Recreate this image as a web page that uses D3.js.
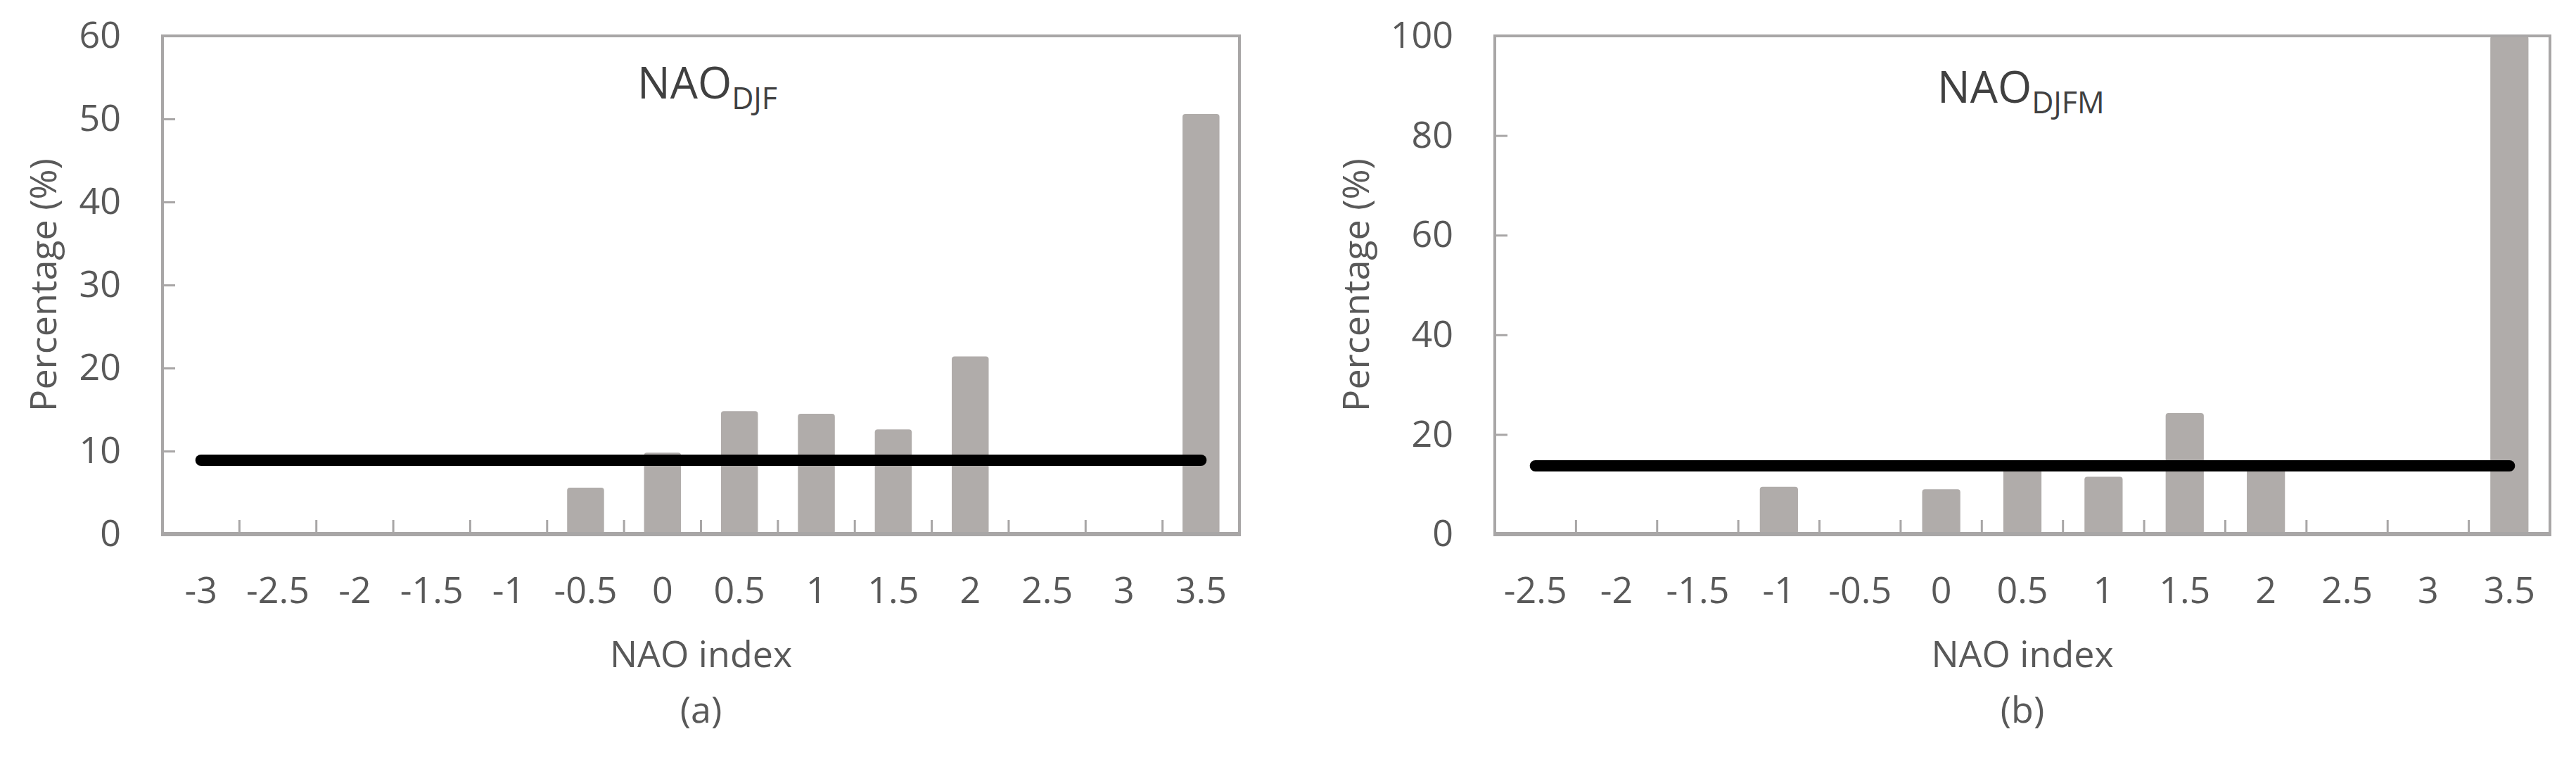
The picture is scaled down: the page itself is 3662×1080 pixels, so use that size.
<!DOCTYPE html>
<html>
<head>
<meta charset="utf-8">
<script src="https://cdn.jsdelivr.net/npm/d3@7"></script>
<style>
html,body{margin:0;padding:0;background:#fff;}
svg{display:block;}
text{font-family:"Open Sans",sans-serif;}
</style>
</head>
<body>
<svg id="chart" width="3662" height="1080"></svg>
<script>
// ---- data ----
const categoriesA = ["-3","-2.5","-2","-1.5","-1","-0.5","0","0.5","1","1.5","2","2.5","3","3.5"];
const valuesA     = [0, 0, 0, 0, 0, 5.6, 9.8, 14.8, 14.5, 12.6, 21.4, 0, 0, 50.6];
const meanA       = 8.9;
const yTicksA     = [0, 10, 20, 30, 40, 50, 60];

const categoriesB = ["-2.5","-2","-1.5","-1","-0.5","0","0.5","1","1.5","2","2.5","3","3.5"];
const valuesB     = [0, 0, 0, 9.5, 0, 9.0, 13.5, 11.5, 24.3, 13.5, 0, 0, 100];
const meanB       = 13.7;
const yTicksB     = [0, 20, 40, 60, 80, 100];

const titleMainA = "NAO", titleSubA = "DJF";
const titleMainB = "NAO", titleSubB = "DJFM";
const xTitle = "NAO index", yTitle = "Percentage (%)";
const panelLabelA = "(a)", panelLabelB = "(b)";

// ---- drawing ----
const svg = d3.select("#chart");
const TXT = "#595959", FRAME = "#a8a6a6", BAR = "#b0acaa";

function panel(o) {
  const g = svg.append("g");
  const x = d3.scaleBand().domain(o.cats).range([o.left, o.right]).paddingInner(0).paddingOuter(0);
  const y = d3.scaleLinear().domain([0, o.yMax]).range([o.bottom, o.top]);
  const bw = x.bandwidth() * o.barFrac;

  // bars
  g.selectAll("rect.bar").data(o.cats.map((c, i) => ({c, v: o.vals[i]})).filter(d => d.v > 0))
    .join("rect").attr("class", "bar")
    .attr("x", d => x(d.c) + (x.bandwidth() - bw) / 2)
    .attr("width", bw)
    .attr("y", d => y(d.v))
    .attr("height", d => y(0) - y(d.v))
    .attr("rx", 4)
    .attr("fill", BAR);

  // frame (left, top, right)
  g.append("path")
    .attr("d", `M${o.left},${o.bottom} V${o.top} H${o.right} V${o.bottom}`)
    .attr("fill", "none").attr("stroke", FRAME).attr("stroke-width", 4);

  // y axis
  const ya = g.append("g").attr("transform", `translate(${o.left},0)`)
    .call(d3.axisLeft(y).tickValues(o.yTicks).tickSize(-18).tickPadding(59));
  ya.select(".domain").remove();
  ya.selectAll(".tick line").attr("stroke", FRAME).attr("stroke-width", 3);
  ya.selectAll(".tick text").attr("fill", TXT).style("font-size", "52px");

  // x category boundary ticks
  const bounds = o.cats.slice(1).map(c => x(c));
  g.selectAll("line.xt").data(bounds).join("line").attr("class", "xt")
    .attr("x1", d => d).attr("x2", d => d)
    .attr("y1", y(0)).attr("y2", y(0) - 20)
    .attr("stroke", FRAME).attr("stroke-width", 3);

  // x axis labels
  const xa = g.append("g").attr("transform", `translate(0,${o.bottom})`)
    .call(d3.axisBottom(x).tickSize(0).tickPadding(61));
  xa.select(".domain").remove();
  xa.selectAll(".tick text").attr("fill", TXT).style("font-size", "52px");

  // x axis line
  g.append("line").attr("x1", o.left - 2).attr("x2", o.right + 2)
    .attr("y1", o.bottom).attr("y2", o.bottom)
    .attr("stroke", FRAME).attr("stroke-width", 6);

  // mean line
  const line = d3.line().x(d => x(d) + x.bandwidth() / 2).y(() => y(o.mean));
  g.append("path").datum([o.cats[0], o.cats[o.cats.length - 1]])
    .attr("d", line).attr("fill", "none").attr("stroke", "#000")
    .attr("stroke-width", 16).attr("stroke-linecap", "round");

  // titles
  const cx = (o.left + o.right) / 2;
  g.append("text").attr("x", cx).attr("y", 948).attr("text-anchor", "middle")
    .attr("fill", TXT).style("font-size", "52px").text(xTitle);
  g.append("text").attr("x", cx).attr("y", 1027).attr("text-anchor", "middle")
    .attr("fill", TXT).style("font-size", "52px").text(o.label);
  g.append("text").attr("transform", `translate(${o.yTitleX},405) rotate(-90)`)
    .attr("text-anchor", "middle").attr("fill", TXT).style("font-size", "52px").text(yTitle);

  const t = g.append("text").attr("x", o.titleX).attr("y", o.titleY).attr("fill", "#404040");
  t.append("tspan").style("font-size", "62px").text(o.tMain);
  t.append("tspan").attr("dy", 15).style("font-size", "43px").text(o.tSub);
}

panel({cats: categoriesA, vals: valuesA, mean: meanA, yTicks: yTicksA, yMax: 60,
       left: 231, right: 1762, top: 51, bottom: 759, barFrac: 0.48,
       label: panelLabelA, yTitleX: 80, titleX: 906, titleY: 140, tMain: titleMainA, tSub: titleSubA});
panel({cats: categoriesB, vals: valuesB, mean: meanB, yTicks: yTicksB, yMax: 100,
       left: 2125, right: 3625, top: 51, bottom: 759, barFrac: 0.47,
       label: panelLabelB, yTitleX: 1946, titleX: 2754, titleY: 146, tMain: titleMainB, tSub: titleSubB});
</script>
</body>
</html>
